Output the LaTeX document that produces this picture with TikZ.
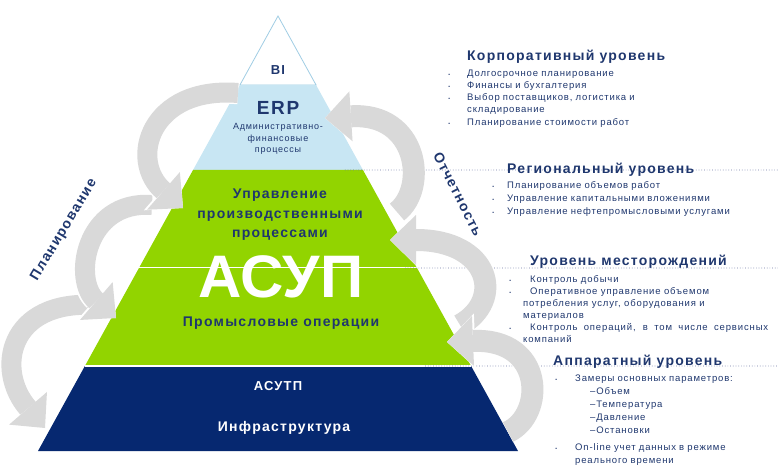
\documentclass[tikz,border=0pt]{standalone}
\usepackage{fontspec}
\setmainfont{Liberation Sans}[LetterSpace=9]
\usetikzlibrary{arrows.meta, positioning, calc}
\definecolor{asupnavy}{RGB}{31,55,110}
\definecolor{asupdark}{RGB}{6,40,112}
\definecolor{asupgreen}{RGB}{146,212,0}
\definecolor{asupsky}{RGB}{200,230,243}
\definecolor{asupedge}{RGB}{160,205,228}
\definecolor{flowgray}{RGB}{217,217,217}
\definecolor{ruleblue}{RGB}{110,120,165}
\renewcommand{\labelitemi}{\tiny\textbullet}

\begin{document}
\begin{tikzpicture}[x=1pt, y=-1pt,
    flow/.style={draw=flowgray, line width=20pt,
      -{Triangle[length=26pt, width=50pt, line width=0pt]},
      preaction={draw=white, line width=22.5pt,
        -{Triangle[length=28pt, width=55pt, line width=0pt]}}},
    levelrule/.style={draw=ruleblue, dotted, line width=0.7pt},
    tiertext/.style={text=asupnavy, font=\bfseries\fontsize{14}{19.5}\selectfont, align=center, inner sep=0pt},
    lvltitle/.style={text=asupnavy, font=\bfseries\fontsize{14}{16}\selectfont, anchor=base west, inner sep=0pt},
    lvllist/.style={text=asupnavy, text width=300pt, anchor=north west, inner sep=0pt}]
  \useasboundingbox (0,0) rectangle (778,468);

  % pyramid
  \coordinate (apex) at (278,16);
  \coordinate (bl) at (38,451);
  \coordinate (br) at (518,451);
  \foreach \n/\t in {a/0.1586, b/0.354, c/0.5793, d/0.8046} {
    \coordinate (L\n) at ($(apex)!\t!(bl)$);
    \coordinate (R\n) at ($(apex)!\t!(br)$);
  }
  \filldraw[fill=white, draw=asupedge, line width=0.8pt] (apex) -- (Ra) -- (La) -- cycle;
  \fill[asupsky] (La) -- (Ra) -- (Rb) -- (Lb) -- cycle;
  \fill[asupgreen] (Lb) -- (Rb) -- (Rd) -- (Ld) -- cycle;
  \fill[asupdark] (Ld) -- (Rd) -- (br) -- (bl) -- cycle;
  \draw[white, line width=1pt] (Lc) -- (Rc);
  \draw[white, line width=1.5pt] (Ld) -- (Rd);

  \draw[levelrule] ($(Rb)+(-18,0)$) -- (778,170);
  \draw[levelrule] ($(Rc)+(-12,0)$) -- (778,268);
  \draw[levelrule] ($(Rd)+(-46,0)$) -- (778,366);

  \node[tiertext, font=\bfseries\fontsize{13}{15}\selectfont] (bi) at (278,70) {BI};
  \node[tiertext, font=\bfseries\fontsize{19}{21}\selectfont] (erp) at (278,108) {ERP};
  \node[tiertext, font=\fontsize{9}{11.5}\selectfont] (erpsub) at (278,139) {Административно-\\финансовые\\процессы};
  \node[tiertext] (prod) at (280,215) {Управление\\производственными\\процессами};
  \node[tiertext, text=white, font=\bfseries\fontsize{60}{60}\selectfont\addfontfeature{LetterSpace=0}] (asup) at (281,277) {АСУП};
  \node[tiertext] (field) at (281,323) {Промысловые операции};
  \node[tiertext, text=white, font=\bfseries\fontsize{13}{15}\selectfont] (asutp) at (278,386) {АСУТП};
  \node[tiertext, text=white] (infra) at (284,428) {Инфраструктура};

  % planning and reporting loops
  \draw[flow] (95,305) .. controls (8,300) and (-5,370) .. (45,428);
  \draw[flow] (152,205) .. controls (85,200) and (72,280) .. (116,318);
  \draw[flow] (238,93) .. controls (150,86) and (128,160) .. (183,208);
  \draw[flow, line width=22pt] (397,212) .. controls (428,188) and (418,112) .. (325,118);
  \draw[flow, line width=22pt] (460,325) .. controls (505,300) and (490,240) .. (390,240);
  \draw[flow, line width=22pt] (508,432) .. controls (545,415) and (545,338) .. (447,342);

  \node[rotate=59, text=asupnavy, font=\bfseries\fontsize{14}{16}\selectfont] (plan) at (64,230) {Планирование};
  \node[rotate=-63, text=asupnavy, font=\bfseries\fontsize{14}{16}\selectfont] (report) at (458,194) {Отчетность};

  % levels
  \node[lvltitle] (corpT) at (467,61) {Корпоративный уровень};
  \node[lvllist, font=\fontsize{9.5}{12.2}\selectfont] (corpL) at (447,56) {
    \setlength{\leftmargini}{20pt}\setlength{\labelsep}{17pt}
    \begin{itemize}\setlength{\itemsep}{0pt}\setlength{\parskip}{0pt}
      \item Долгосрочное планирование
      \item Финансы и бухгалтерия
      \item Выбор поставщиков, логистика и\newline складирование
      \item Планирование стоимости работ
    \end{itemize}
  };
  \node[lvltitle] (regT) at (507,173) {Региональный уровень};
  \node[lvllist, font=\fontsize{9.5}{13}\selectfont] (regL) at (493,167.3) {
    \setlength{\leftmargini}{14pt}\setlength{\labelsep}{13pt}
    \begin{itemize}\setlength{\itemsep}{0pt}\setlength{\parskip}{0pt}
      \item Планирование объемов работ
      \item Управление капитальными вложениями
      \item Управление нефтепромысловыми услугами
    \end{itemize}
  };
  \node[lvltitle] (fieldT) at (530,265.5) {Уровень месторождений};
  \node[lvllist, text width=258pt, align=justify, font=\fontsize{9.5}{12.1}\selectfont] (fieldL) at (510,261.7) {
    \setlength{\leftmargini}{20pt}\setlength{\labelsep}{19pt}
    \begin{itemize}\setlength{\itemsep}{0pt}\setlength{\parskip}{0pt}
      \item Контроль добычи
      \item Оперативное управление объемом\newline\hspace*{-7pt}потребления услуг, оборудования и\newline\hspace*{-7pt}материалов
      \item Контроль операций, в том числе сервисных\linebreak\hspace*{-7pt}компаний
    \end{itemize}
  };
  \node[lvltitle] (hwT) at (553,365.5) {Аппаратный уровень};
  \node[lvllist, font=\fontsize{9.5}{12.9}\selectfont] (hwL) at (555,360.7) {
    \setlength{\leftmargini}{20pt}\setlength{\labelsep}{18pt}
    \begin{itemize}\setlength{\itemsep}{4pt}\setlength{\parskip}{0pt}
      \item Замеры основных параметров:\newline\hspace*{15pt}–Объем\newline\hspace*{15pt}–Температура\newline\hspace*{15pt}–Давление\newline\hspace*{15pt}–Остановки
      \item On-line учет данных в режиме\newline реального времени
    \end{itemize}
  };
\end{tikzpicture}
\end{document}
